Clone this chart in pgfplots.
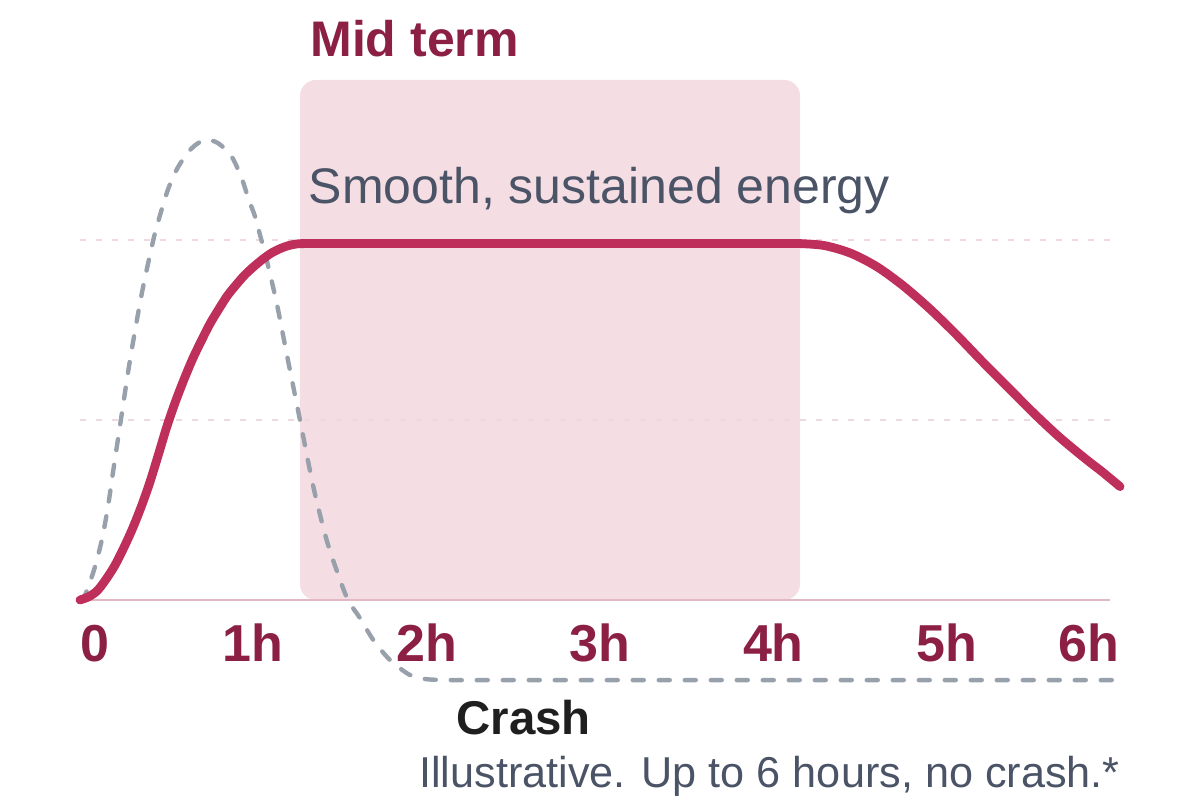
\documentclass[border=0pt]{standalone}
\usepackage{pgfplots}
\pgfplotsset{compat=1.18}
\usepackage{fontspec}
\setmainfont{Liberation Sans}

\definecolor{energy}{HTML}{BE2F5B}
\definecolor{wine}{HTML}{8C2044}
\definecolor{bandfill}{HTML}{F4DDE3}
\definecolor{slate}{HTML}{4A5466}
\definecolor{crashgray}{HTML}{97A0AB}
\definecolor{gridpink}{HTML}{EFD9E0}
\definecolor{basepink}{HTML}{E2B8C5}

% 1 px of the 1200x800 reference = 0.5bp
\begin{document}
\begin{tikzpicture}
\begin{axis}[
    width=600bp, height=400bp, scale only axis,
    xmin=-0.46154, xmax=6.46154,
    ymin=-1.11111, ymax=3.33333,
    hide axis, clip=false,
  ]
  % bounding box of the whole picture
  \path (rel axis cs:0,0) rectangle (rel axis cs:1,1);

  % mid-term band
  \addplot[fill=bandfill, draw=none, rounded corners=8bp]
    coordinates {(1.269,0) (1.269,2.889) (4.154,2.889) (4.154,0)} -- cycle;

  % light grid lines and baseline
  \addplot[gridpink, line width=1.1bp, dash pattern=on 3bp off 5bp]
    coordinates {(0,1) (5.94,1)};
  \addplot[gridpink, line width=1.1bp, dash pattern=on 3bp off 5bp]
    coordinates {(0,2) (5.94,2)};
  \addplot[basepink, line width=1.3bp] coordinates {(0,0) (5.94,0)};

  % sugar spike and crash (dashed)
  \addplot[crashgray, line width=2.2bp, smooth, line cap=round,
           dash pattern=on 5.5bp off 7.5bp]
    coordinates {
      (0,0) (0.025,0.02) (0.048,0.074) (0.085,0.18) (0.125,0.33)
      (0.16,0.51) (0.192,0.72) (0.231,0.97) (0.288,1.33) (0.356,1.70)
      (0.423,2.0) (0.462,2.139) (0.51,2.287) (0.567,2.407) (0.644,2.509)
      (0.721,2.556) (0.798,2.537) (0.875,2.463) (0.933,2.343) (0.971,2.231)
      (1.01,2.13) (1.038,2.03) (1.077,1.889) (1.135,1.648) (1.192,1.37)
      (1.269,1.0) (1.346,0.63) (1.423,0.333) (1.49,0.14) (1.546,0)
      (1.615,-0.1) (1.692,-0.222) (1.788,-0.333) (1.904,-0.417)
      (2.0,-0.44) (2.15,-0.445) (2.4,-0.445) (2.8,-0.445) (3.2,-0.445)
      (3.6,-0.445) (4,-0.445) (4.4,-0.445) (4.8,-0.445) (5.2,-0.445)
      (5.6,-0.445) (6,-0.445)
    };

  % sustained energy curve
  \addplot[energy, line width=4.4bp, smooth, line cap=round, line join=round]
    coordinates {
      (0,0) (0.05,0.018) (0.1,0.052) (0.15,0.115) (0.2,0.19) (0.25,0.285)
      (0.3,0.39) (0.35,0.51) (0.4,0.645) (0.45,0.8) (0.5,0.96) (0.55,1.1)
      (0.6,1.225) (0.65,1.34) (0.7,1.44) (0.75,1.535) (0.8,1.615)
      (0.85,1.69) (0.9,1.75) (0.95,1.805) (1.0,1.85) (1.05,1.89)
      (1.1,1.925) (1.15,1.95) (1.2,1.968) (1.25,1.978) (1.3,1.98)
      (1.5,1.98) (1.75,1.98) (2,1.98) (2.25,1.98) (2.5,1.98) (2.75,1.98)
      (3,1.98) (3.25,1.98) (3.5,1.98) (3.75,1.98) (4,1.98) (4.154,1.98)
      (4.3,1.968) (4.45,1.925) (4.6,1.85) (4.75,1.745) (4.9,1.62)
      (5.05,1.48) (5.2,1.33) (5.35,1.185) (5.5,1.04) (5.65,0.905)
      (5.8,0.785) (5.9,0.71) (6,0.63)
    };

  % tick labels
  \begin{scope}[every node/.style={text=wine, inner sep=0pt,
      font=\fontsize{26bp}{30bp}\selectfont\bfseries}]
    \node[anchor=base west] at (axis cs:0,-0.339) {0};
    \node[anchor=base] at (axis cs:1,-0.339) {1h};
    \node[anchor=base] at (axis cs:2,-0.339) {2h};
    \node[anchor=base] at (axis cs:3,-0.339) {3h};
    \node[anchor=base] at (axis cs:4,-0.339) {4h};
    \node[anchor=base] at (axis cs:5,-0.339) {5h};
    \node[anchor=base east] at (axis cs:6,-0.339) {6h};
  \end{scope}

  % annotations
  \node[anchor=base west, inner sep=0pt, text=wine,
        font=\fontsize{25bp}{30bp}\selectfont\bfseries]
    at (axis cs:1.327,3.017) {Mid term};
  \node[anchor=base west, inner sep=0pt, text=slate,
        font=\fontsize{25bp}{30bp}\selectfont]
    at (axis cs:1.318,2.2) {Smooth, sustained energy};
  \node[anchor=base west, inner sep=0pt, text=black!88,
        font=\fontsize{23.7bp}{28bp}\selectfont\bfseries]
    at (axis cs:2.169,-0.75) {Crash};
  \node[anchor=base east, inner sep=0pt, text=slate,
        font=\fontsize{21.6bp}{26bp}\selectfont]
    at (axis cs:6,-1.039) {Illustrative. Up to 6 hours, no crash.*};
\end{axis}
\end{tikzpicture}
\end{document}
